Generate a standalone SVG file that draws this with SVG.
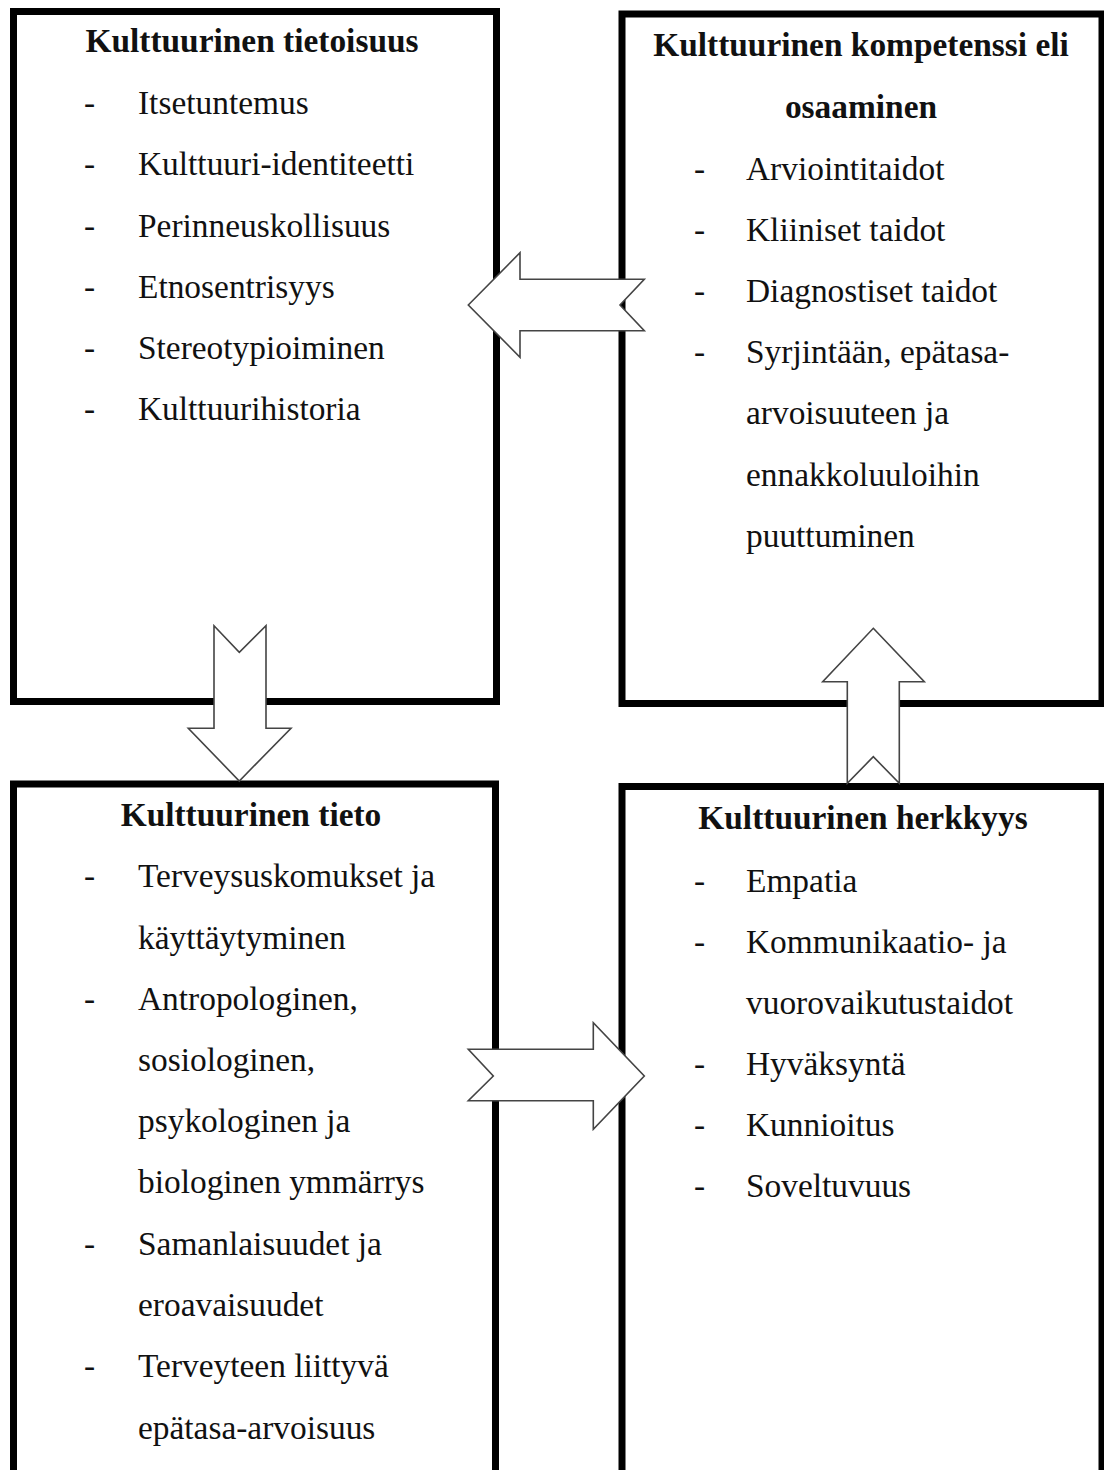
<svg xmlns="http://www.w3.org/2000/svg" width="1104" height="1470" viewBox="0 0 1104 1470">
<style>
.box{fill:#fff;stroke:#000;stroke-width:7}
.t{font-family:"Liberation Serif","Times New Roman",serif;font-size:33.4px;fill:#111}
.h{font-weight:bold;text-anchor:middle}
.arr{fill:#fff;stroke:#444;stroke-width:1.6;stroke-linejoin:miter}
</style>
<rect width="1104" height="1470" fill="#fff"/>
<g id="node-tietoisuus">
<rect class="box" x="13.5" y="11.5" width="483" height="690"/>
<text class="t h" x="252" y="52">Kulttuurinen tietoisuus</text>
<g class="t">
<text x="84" y="114">-</text><text x="138" y="114">Itsetuntemus</text>
<text x="84" y="175">-</text><text x="138" y="175">Kulttuuri-identiteetti</text>
<text x="84" y="237">-</text><text x="138" y="237">Perinneuskollisuus</text>
<text x="84" y="298">-</text><text x="138" y="298">Etnosentrisyys</text>
<text x="84" y="359">-</text><text x="138" y="359">Stereotypioiminen</text>
<text x="84" y="420">-</text><text x="138" y="420">Kulttuurihistoria</text>
</g>
</g>
<g id="node-kompetenssi">
<rect class="box" x="622" y="14" width="480" height="689.5"/>
<text class="t h" x="861" y="56">Kulttuurinen kompetenssi eli</text>
<text class="t h" x="861" y="118">osaaminen</text>
<g class="t">
<text x="694" y="180">-</text><text x="746" y="180">Arviointitaidot</text>
<text x="694" y="241">-</text><text x="746" y="241">Kliiniset taidot</text>
<text x="694" y="302">-</text><text x="746" y="302">Diagnostiset taidot</text>
<text x="694" y="363">-</text><text x="746" y="363">Syrjintään, epätasa-</text>
<text x="746" y="424">arvoisuuteen ja</text>
<text x="746" y="486">ennakkoluuloihin</text>
<text x="746" y="547">puuttuminen</text>
</g>
</g>
<g id="node-tieto">
<rect class="box" x="13.5" y="784" width="482" height="720"/>
<text class="t h" x="251" y="826">Kulttuurinen tieto</text>
<g class="t">
<text x="84" y="887">-</text><text x="138" y="887">Terveysuskomukset ja</text>
<text x="138" y="949">käyttäytyminen</text>
<text x="84" y="1010">-</text><text x="138" y="1010">Antropologinen,</text>
<text x="138" y="1071">sosiologinen,</text>
<text x="138" y="1132">psykologinen ja</text>
<text x="138" y="1193">biologinen ymmärrys</text>
<text x="84" y="1255">-</text><text x="138" y="1255">Samanlaisuudet ja</text>
<text x="138" y="1316">eroavaisuudet</text>
<text x="84" y="1377">-</text><text x="138" y="1377">Terveyteen liittyvä</text>
<text x="138" y="1439">epätasa-arvoisuus</text>
</g>
</g>
<g id="node-herkkyys">
<rect class="box" x="622" y="786.5" width="480" height="720"/>
<text class="t h" x="863" y="829">Kulttuurinen herkkyys</text>
<g class="t">
<text x="694" y="892">-</text><text x="746" y="892">Empatia</text>
<text x="694" y="953">-</text><text x="746" y="953">Kommunikaatio- ja</text>
<text x="746" y="1014">vuorovaikutustaidot</text>
<text x="694" y="1075">-</text><text x="746" y="1075">Hyväksyntä</text>
<text x="694" y="1136">-</text><text x="746" y="1136">Kunnioitus</text>
<text x="694" y="1197">-</text><text x="746" y="1197">Soveltuvuus</text>
</g>
</g>
<g id="connectors">
<polygon class="arr" points="468.3,305 520,252.7 520,279.3 644.3,279.3 620,305 644.3,330.7 520,330.7 520,357.3"/>
<polygon class="arr" points="214,625.7 239.3,652.3 266,625.7 266,728.3 291,728.3 239.3,781 188.3,728.3 214,728.3"/>
<polygon class="arr" points="468.3,1049.3 593.3,1049.3 593.3,1022.7 644.3,1076 593.3,1129.3 593.3,1100.7 468.3,1100.7 493.3,1076"/>
<polygon class="arr" points="873.3,628.3 924.3,681.7 899.3,681.7 899.3,783.3 873.3,756.7 847.3,783.3 847.3,681.7 822.7,681.7"/>
</g>
</svg>
